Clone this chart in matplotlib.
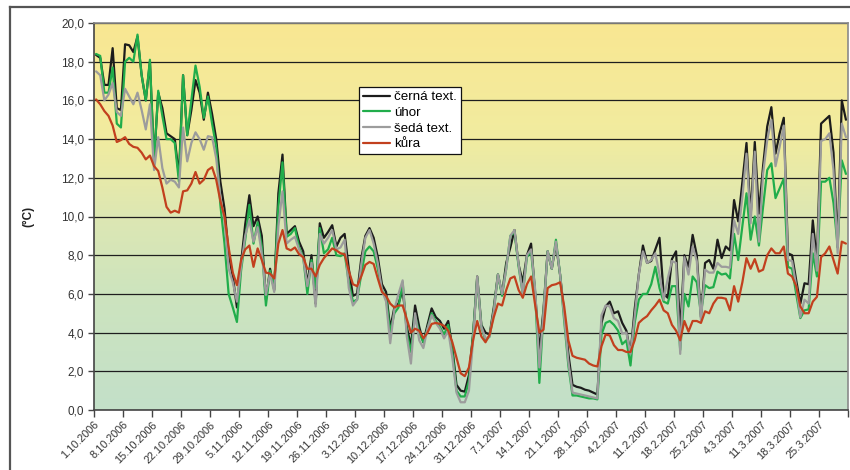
import numpy as np
import pandas as pd
import matplotlib
matplotlib.use("Agg")
import matplotlib.pyplot as plt
from matplotlib.colors import LinearSegmentedColormap
from matplotlib.lines import Line2D

plt.rcParams["font.family"] = ["Liberation Sans", "DejaVu Sans"]

# Daily mean temperatures (°C), 1.10.2006 - 31.3.2007
cerna_text = [
    18.35, 18.2, 16.8, 16.8, 18.7, 15.6, 15.5, 18.9, 18.85, 18.5, 19.3, 17.3, 16.0, 18.0, 12.9, 16.4,
    15.6, 14.3, 14.15, 14.0, 12.1, 17.3, 14.2, 15.5, 17.05, 16.4, 15.0, 16.4, 15.3, 14.0, 11.8,
    10.4, 8.1, 6.9, 5.3, 7.6, 9.6, 11.1, 9.5, 10.0, 9.0, 5.7, 7.3, 6.2, 11.2, 13.2, 9.1, 9.3, 9.5,
    8.7, 8.2, 6.5, 8.0, 5.5, 9.65, 8.9, 9.2, 9.55, 8.45, 8.9, 9.1,
    7.3, 5.9, 6.0, 7.8, 9.0, 9.4, 8.9, 7.9, 6.5, 6.1, 4.2, 5.3, 5.5, 6.2, 4.3, 3.3, 5.4, 4.3, 3.5,
    4.4, 5.25, 4.8, 4.6, 4.2, 4.6, 3.2, 1.3, 1.0, 0.95, 1.8, 3.9,
    6.9, 4.4, 4.0, 3.9, 5.3, 7.0, 6.0, 7.6, 8.4, 9.3, 7.5, 6.6, 8.0, 8.6, 6.0, 3.0, 5.2, 8.2, 7.3,
    8.6, 7.0, 5.0, 2.9, 1.3, 1.2, 1.15, 1.05, 1.0, 0.9, 0.8,
    4.5, 5.35, 5.6, 5.0, 5.1, 4.5, 4.1, 2.9, 5.2, 7.0, 8.5, 7.6, 7.7, 8.3, 8.9, 6.0, 5.8, 7.8, 8.2,
    4.0, 8.0, 7.4, 9.05, 8.0, 4.8, 7.6, 7.75, 7.3, 8.8, 7.85, 8.45,
    8.25, 10.85, 9.75, 11.8, 13.8, 10.0, 13.85, 10.15, 12.6, 14.65, 15.65, 13.25, 14.3, 15.1, 8.1,
    8.0, 6.7, 5.5, 6.55, 6.5, 9.8, 7.7, 14.8, 15.0, 15.2, 13.3, 8.4, 16.0, 15.0,
]
uhor = [
    18.4, 18.3, 16.4, 16.4, 17.7, 14.8, 14.6, 18.0, 18.2, 18.0, 19.4, 17.3, 16.0, 18.1, 12.8, 16.5,
    15.2, 14.0, 14.0, 13.8, 11.8, 17.3, 14.2, 16.0, 17.8, 16.7, 15.1, 16.2, 14.8, 13.6, 10.6,
    8.6, 6.0, 5.3, 4.55, 7.2, 8.8, 10.6, 8.6, 9.7, 8.45, 5.4, 7.2, 6.4, 10.5, 12.8, 8.95, 9.1, 9.4,
    8.4, 7.9, 6.0, 7.75, 6.3, 9.4, 8.1, 8.3, 8.9, 8.0, 7.95, 8.1,
    6.6, 5.6, 5.7, 7.0, 8.2, 8.45, 8.2, 7.3, 6.2, 5.8, 4.0, 5.0, 5.3, 6.6, 4.0, 3.0, 4.9, 4.0, 3.5,
    4.2, 5.0, 4.6, 4.3, 3.9, 4.4, 3.0, 1.0, 0.7, 0.7, 1.5, 3.9,
    6.8, 4.3, 3.6, 3.8, 5.1, 7.0, 5.9, 7.3, 9.0, 9.2, 7.4, 6.0, 7.9, 8.2, 6.0, 1.4, 5.0, 8.2, 7.3,
    8.8, 7.0, 4.6, 2.3, 0.75, 0.75, 0.7, 0.65, 0.6, 0.6, 0.55,
    3.9, 4.5, 4.6, 4.4, 4.1, 3.4, 3.6, 2.3, 4.5, 5.7, 6.0, 6.0, 6.5, 7.4, 6.3, 5.6, 5.5, 6.4, 6.4,
    3.1, 6.0, 5.35, 6.9, 6.6, 5.0, 6.45, 6.3, 6.35, 7.15, 7.0, 7.05,
    6.8, 9.1, 7.75, 9.5, 11.2, 8.8, 10.0, 8.5, 10.5, 12.4, 12.75, 10.95, 11.45, 11.95, 7.4,
    7.3, 6.0, 4.75, 5.15, 5.2, 8.1, 6.9, 11.8, 11.8, 12.0, 10.7, 8.45, 12.9, 12.2,
]
seda_text = [
    17.5, 17.3, 16.0, 16.3, 16.9, 15.4, 15.2, 16.6, 16.2, 15.8, 16.4, 15.5, 14.5, 15.8, 12.4, 14.1,
    12.5, 11.7, 11.9, 11.8, 11.5, 14.6, 12.85, 13.8, 14.35, 14.0, 13.45, 14.15, 14.1, 13.0, 11.0,
    9.8, 7.3, 6.6, 5.6, 7.4, 9.0, 9.8, 8.7, 9.45, 8.1, 5.95, 7.05, 6.1, 9.5, 11.3, 8.6, 8.8, 8.95,
    8.3, 7.85, 6.4, 7.6, 5.35, 9.1, 8.6, 8.9, 9.3, 8.3, 8.4, 8.8,
    6.3, 5.4, 5.7, 7.5, 8.9, 9.3, 8.6, 7.6, 6.2, 5.6, 3.45, 5.2, 6.0, 6.7, 3.8, 2.4, 5.0, 3.6, 3.2,
    4.2, 4.9, 4.5, 4.2, 3.7, 4.1, 2.7, 0.9, 0.4, 0.4, 1.0, 3.6,
    6.9, 4.3, 3.7, 3.8, 5.1, 7.0, 6.0, 7.3, 9.0, 9.3, 7.5, 6.0, 8.0, 8.3, 6.2, 2.2, 5.0, 8.2, 7.3,
    8.7, 7.0, 4.8, 2.5, 0.9, 0.85, 0.8, 0.75, 0.7, 0.65, 0.6,
    4.9, 5.4, 5.35, 4.75, 4.6, 3.95, 4.0, 2.9, 4.8, 7.0, 8.2, 7.6, 7.75, 8.1, 7.0, 5.7, 6.8, 7.7,
    7.6, 2.9, 7.9, 7.0, 8.45, 7.7, 4.65, 7.25, 7.1, 7.1, 7.6, 7.4, 7.4,
    7.35, 9.8, 9.1, 11.0, 13.25, 9.65, 13.35, 8.7, 12.2, 13.95, 15.0, 12.6, 13.6, 14.7, 7.75,
    7.7, 6.4, 4.8, 5.7, 5.5, 9.1, 7.2, 13.9, 14.0, 14.3, 12.4, 8.1, 14.8, 14.1,
]
kura = [
    16.05, 15.8, 15.45, 15.2, 14.7, 13.85, 13.95, 14.1, 13.75, 13.6, 13.55, 13.3, 12.95, 13.15, 12.6,
    12.35, 11.5, 10.5, 10.2, 10.3, 10.2, 11.3, 11.35, 11.7, 12.3, 11.7, 11.9, 12.4, 12.55, 11.9, 10.8,
    10.0, 8.4, 7.1, 6.45, 7.75, 8.3, 8.5, 7.4, 8.35, 7.75, 7.1, 7.05, 6.8, 8.6, 9.3, 8.35, 8.25, 8.4,
    8.05, 7.9, 7.3, 7.3, 6.9, 7.5, 7.85, 8.1, 8.35, 8.25, 8.1, 8.05,
    7.2, 6.5, 6.4, 6.9, 7.5, 7.65, 7.55, 6.8, 6.1, 5.9, 5.5, 5.3, 5.4, 5.4, 4.7, 4.0, 4.2, 4.1, 3.7,
    4.0, 4.45, 4.5, 4.45, 4.35, 4.1, 3.5, 2.7, 1.9, 1.75, 2.2, 3.6,
    4.6, 3.8, 3.5, 3.9, 4.8, 5.5, 5.4, 6.2, 6.8, 6.9, 6.2, 5.8, 6.5, 6.9, 5.4, 4.0, 4.15, 6.3, 6.45,
    6.5, 6.6, 5.35, 3.6, 2.8, 2.7, 2.65, 2.6, 2.4, 2.3, 2.25,
    3.3, 3.9, 3.85, 3.35, 3.1, 3.1, 3.0, 3.0, 3.6, 4.5, 4.7, 4.85, 5.15, 5.4, 5.7, 5.15, 5.0, 4.4,
    4.1, 3.6, 4.6, 4.05, 4.6, 4.6, 4.5, 5.1, 5.0, 5.5, 5.8, 5.8, 5.75,
    5.15, 6.4, 5.6, 6.6, 7.85, 7.3, 7.8, 7.15, 7.25, 8.0, 8.35, 8.1, 8.1, 8.45, 7.05,
    6.9, 6.4, 5.35, 5.0, 5.0, 5.6, 5.85, 7.9, 8.1, 8.45, 7.75, 7.05, 8.7, 8.6,
]

series_names = ["černá text.", "úhor", "šedá text.", "kůra"]
series_colors = ["#1c1c1c", "#21ad4b", "#9c9c9c", "#c2401e"]
series_values = [cerna_text, uhor, seda_text, kura]

start = pd.Timestamp("2006-10-01")
end = pd.Timestamp("2007-04-01")
tick_dates = pd.date_range(start, end, freq="7D")
tick_labels = [f"{d.day}.{d.month}.{d.year}" for d in tick_dates[:-1]] + [""]

fig = plt.figure(figsize=(8.5, 4.7), dpi=100)
ax = fig.add_axes([94 / 850, 1 - 410 / 470, 754 / 850, 387 / 470])

# vertical yellow-to-green background
bg = LinearSegmentedColormap.from_list(
    "bg", [(0.0, "#c3e0c9"), (0.3, "#cde4be"), (0.5, "#dde7b3"),
           (0.7, "#f1eca0"), (1.0, "#f9e792")])
grad = np.linspace(0, 1, 256).reshape(-1, 1)
ax.imshow(grad, cmap=bg, origin="lower", aspect="auto",
          extent=[0, 1, 0, 1], transform=ax.transAxes, zorder=0)

for name, color, vals in zip(series_names, series_colors, series_values):
    x = pd.date_range(start, periods=len(vals), freq="D") + pd.Timedelta(hours=12)
    ax.plot(x, vals, color=color, lw=1.6, label=name, zorder=3,
            solid_joinstyle="round", solid_capstyle="round")

ax.set_xlim(start, end)
ax.set_ylim(0, 20)
ax.set_yticks(np.arange(0, 21, 2))
ax.set_yticklabels([f"{v:.1f}".replace(".", ",") for v in np.arange(0, 21, 2)],
                   fontsize=8.5, color="#333333")
ax.set_xticks(tick_dates)
ax.set_xticklabels(tick_labels, rotation=45, ha="right", va="top",
                   rotation_mode="anchor", fontsize=7.8, color="#333333")
ax.tick_params(axis="y", direction="out", length=4, width=1, color="#444444", pad=3)
ax.tick_params(axis="x", direction="out", length=5, width=1, color="#444444", pad=2)

ax.grid(axis="y", color="#1e1e1e", lw=0.9, zorder=1)
ax.set_axisbelow(True)
for side in ("top", "right"):
    ax.spines[side].set_color("#8a8a8a")
    ax.spines[side].set_linewidth(1.2)
for side in ("left", "bottom"):
    ax.spines[side].set_color("#444444")
    ax.spines[side].set_linewidth(1.2)

ax.set_ylabel("(°C)", fontsize=8.5, fontweight="bold", color="#222222", labelpad=0)
ax.yaxis.set_label_coords(-0.079, 0.5)

leg = ax.legend(loc="upper left", bbox_to_anchor=(0.3515, 0.8346), fontsize=9.6,
                frameon=True, fancybox=False, shadow=False, borderpad=0.3,
                labelspacing=0.25, handlelength=2.0, handletextpad=0.3,
                borderaxespad=0)
leg.get_frame().set_edgecolor("#111111")
leg.get_frame().set_linewidth(0.9)
leg.get_frame().set_facecolor("white")
leg.get_frame().set_alpha(1)

# outer chart frame (left and top edges)
fig.add_artist(Line2D([10 / 850, 10 / 850], [0, 1 - 6.5 / 470],
                      transform=fig.transFigure, color="#555555", lw=1.6))
fig.add_artist(Line2D([10 / 850, 1.0], [1 - 6.5 / 470, 1 - 6.5 / 470],
                      transform=fig.transFigure, color="#555555", lw=1.6))

fig.savefig("out.png", dpi=100, facecolor="white")
